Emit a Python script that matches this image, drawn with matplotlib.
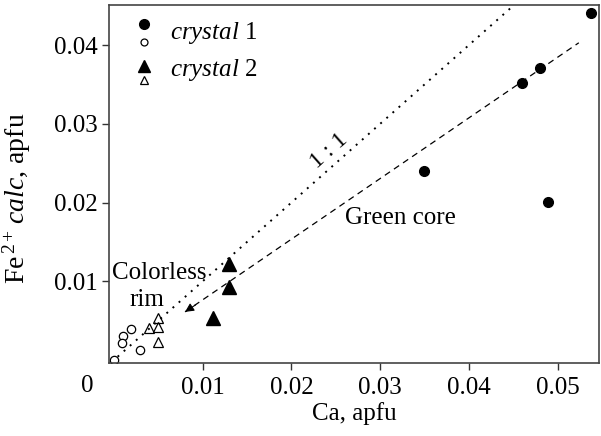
import matplotlib
matplotlib.use('Agg')
import matplotlib.pyplot as plt

plt.rcParams['font.family'] = ['Liberation Serif', 'DejaVu Serif']
plt.rcParams['mathtext.fontset'] = 'custom'
plt.rcParams['mathtext.rm'] = 'Liberation Serif'
plt.rcParams['mathtext.it'] = 'Liberation Serif:italic'

# crystal 1: green core (filled) and colorless rim (open)
c1_core_ca = [0.0538, 0.046, 0.048, 0.0349, 0.0489]
c1_core_fe = [0.0441, 0.0352, 0.0371, 0.0240, 0.0201]
c1_rim_ca = [0.0, 0.0010, 0.0009, 0.0019, 0.0029]
c1_rim_fe = [0.0, 0.0030, 0.0021, 0.0039, 0.0012]

# crystal 2
c2_core_ca = [0.0129, 0.0129, 0.0111]
c2_core_fe = [0.0122, 0.0093, 0.0053]
c2_rim_ca = [0.0050, 0.0039, 0.0050, 0.0050]
c2_rim_fe = [0.0053, 0.0041, 0.0042, 0.0023]

# reference 1:1 line and core->rim trend
one_x = [0.0004, 0.047]
one_y = [0.0004, 0.047]
trend_x = [0.0080, 0.0524]
trend_y = [0.0061, 0.0403]

xticks = [0.01, 0.02, 0.03, 0.04, 0.05]
yticks = [0.01, 0.02, 0.03, 0.04]

fs = 18

fig = plt.figure(figsize=(6.01, 4.36), dpi=100)
ax = fig.add_axes([0.181, 0.1674, 0.816, 0.8211])

ax.plot(one_x, one_y, color='k', lw=1.4, linestyle=(0, (1, 3.2)))
ax.plot(trend_x, trend_y, color='k', lw=0.9, linestyle=(0, (5, 3.8)))
ax.annotate('', xy=(trend_x[0], trend_y[0]),
            xytext=(trend_x[0] + 0.0012, trend_y[0] + 0.0009),
            arrowprops=dict(arrowstyle='-|>', color='k', lw=0.8,
                            mutation_scale=13, shrinkA=0, shrinkB=0))

ax.plot(c1_core_ca, c1_core_fe, 'o', color='k', ms=7, ls='none')
ax.plot(c1_rim_ca, c1_rim_fe, 'o', mfc='white', mec='k', mew=0.9, ms=6, ls='none')
ax.plot(c2_core_ca, c2_core_fe, '^', color='k', ms=9.5, ls='none')
ax.plot(c2_rim_ca, c2_rim_fe, '^', mfc='none', mec='k', mew=0.9, ms=7.5, ls='none')

ax.text(0.0242, 0.0265, '1 : 1', rotation=41.5, ha='center', va='center', fontsize=17)
ax.text(0.0323, 0.0180, 'Green core', ha='center', va='center', fontsize=fs)
ax.text(0.0051, 0.0110, 'Colorless', ha='center', va='center', fontsize=fs)
ax.text(0.0037, 0.0076, 'rim', ha='center', va='center', fontsize=fs)

# hand-made legend
tr = ax.transAxes
ax.plot([0.071], [0.947], 'o', color='k', ms=7, transform=tr)
ax.plot([0.071], [0.897], 'o', mfc='white', mec='k', mew=0.9, ms=5, transform=tr)
ax.plot([0.071], [0.830], '^', color='k', ms=8, transform=tr)
ax.plot([0.071], [0.791], '^', mfc='white', mec='k', mew=0.9, ms=6, transform=tr)
ax.text(0.124, 0.922, r'$\mathit{crystal}$ 1', transform=tr, va='center', fontsize=fs)
ax.text(0.124, 0.818, r'$\mathit{crystal}$ 2', transform=tr, va='center', fontsize=fs)

ax.set_xlim(-0.0006, 0.0547)
ax.set_ylim(-0.0004, 0.0451)
ax.set_xticks(xticks)
ax.set_yticks(yticks)
ax.set_xticklabels([str(t) for t in xticks])
ax.set_yticklabels([str(t) for t in yticks])
ax.tick_params(direction='out', length=5, width=1, labelsize=fs, color='#333333')
ax.tick_params(axis='x', pad=5)
ax.tick_params(axis='y', pad=3)
ax.text(-0.043, -0.065, '0', transform=tr, ha='center', va='center', fontsize=fs)

for s in ax.spines.values():
    s.set_color('#444444')
    s.set_linewidth(1.2)

ax.set_xlabel('Ca, apfu', fontsize=fs, labelpad=2)
ax.set_ylabel(r'Fe$^{\,2+}\,\mathit{calc}$, apfu', fontsize=20, labelpad=5)
ax.yaxis.set_label_coords(-0.155, 0.46)

fig.savefig('out.png', dpi=100)
